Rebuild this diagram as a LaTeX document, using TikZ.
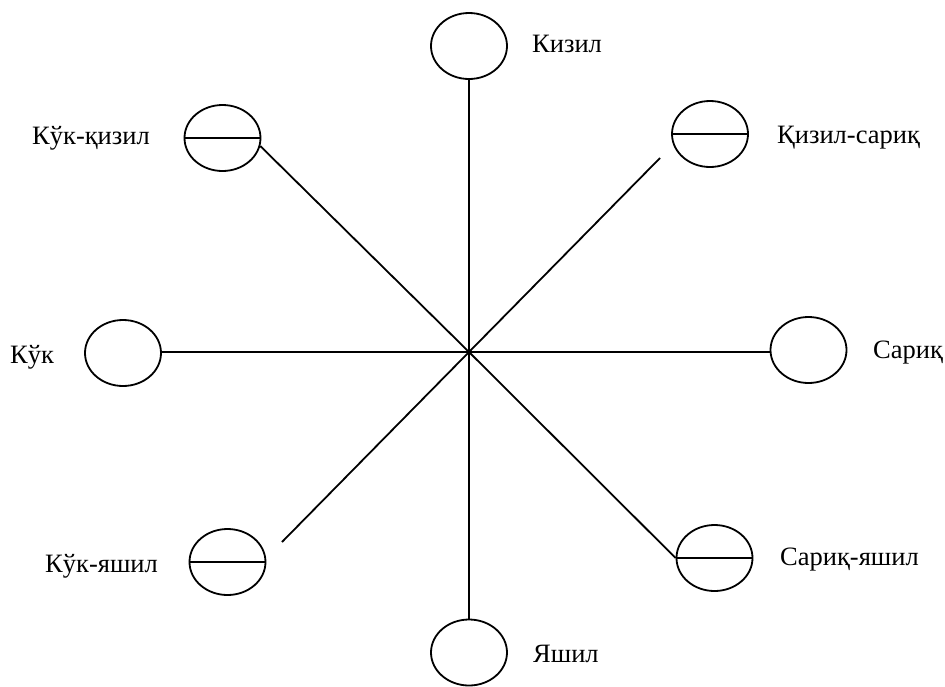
\documentclass[tikz,border=0pt]{standalone}
\usepackage{fontspec}
\setmainfont{Liberation Serif}
\usetikzlibrary{shapes.geometric}
\begin{document}
\begin{tikzpicture}[x=1pt,y=-1pt,
  disc/.style={draw,ellipse,line width=1.8pt,minimum width=76pt,minimum height=66pt,inner sep=0pt},
  lbl/.style={anchor=base west,inner sep=0pt,font=\fontsize{26.5}{31}\selectfont},
  link/.style={line width=1.8pt}]
\useasboundingbox (0,0) rectangle (945,686);
\coordinate (c) at (469,352);
\node[disc] (kz) at (469,46) {};
\node[disc] (kq) at (222.5,138) {};
\node[disc] (qs) at (710,134) {};
\node[disc] (ku) at (123,353) {};
\node[disc] (sr) at (808.5,350) {};
\node[disc] (ky) at (227.5,562) {};
\node[disc] (sy) at (714.5,558) {};
\node[disc] (ya) at (469,652.5) {};
\coordinate (qsend) at (660,158);
\coordinate (kyend) at (282,542);
% spokes
\draw[link] (kz.south) -- (ya.north);
\draw[link] (ku.east |- c) -- (sr.west |- c);
\draw[link] (c) -- (kq.-12);
\draw[link] (c) -- (qsend);
\draw[link] (c) -- (kyend);
\draw[link] (c) -- (sy.west);
% dividers
\draw[link] (kq.west) -- (kq.east);
\draw[link] (qs.west) -- (qs.east);
\draw[link] (ky.west) -- (ky.east);
\draw[link] (sy.west) -- (sy.east);
% labels
\node[lbl] (lkz) at (532,52) {Кизил};
\node[lbl] (lkq) at (32,144) {Кўк-қизил};
\node[lbl] (lqs) at (777,143) {Қизил-сариқ};
\node[lbl] (lku) at (10,363) {Кўк};
\node[lbl] (lsr) at (873,358) {Сариқ};
\node[lbl] (lky) at (45,572) {Кўк-яшил};
\node[lbl] (lsy) at (780,565) {Сариқ-яшил};
\node[lbl] (lya) at (533,662) {Яшил};
\end{tikzpicture}
\end{document}
